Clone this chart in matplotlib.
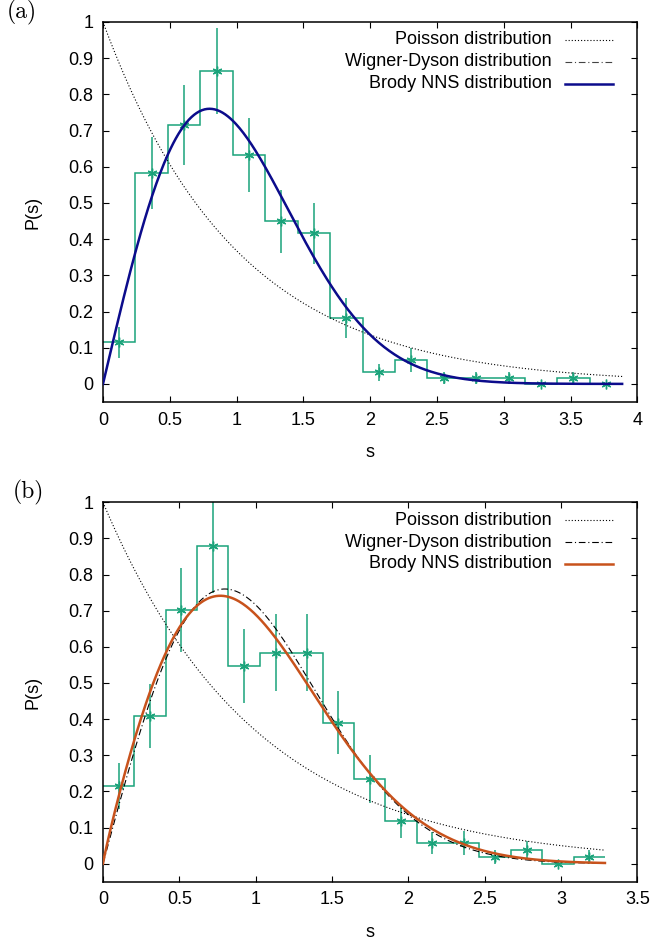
import numpy as np
import matplotlib.pyplot as plt
from matplotlib.ticker import FormatStrFormatter, MultipleLocator
from math import gamma

plt.rcParams['font.family'] = ['Liberation Sans', 'DejaVu Sans']
plt.rcParams['font.size'] = 13

# (a) histogram of nearest-neighbour spacings
bin_w_a = 0.2429
p_a = [0.115, 0.582, 0.715, 0.865, 0.632, 0.449, 0.416, 0.182,
       0.032, 0.066, 0.016, 0.016, 0.016, 0.0, 0.016, 0.0]
err_a = [0.043, 0.099, 0.110, 0.119, 0.103, 0.086, 0.084, 0.055,
         0.023, 0.032, 0.016, 0.016, 0.016, 0.0, 0.016, 0.0]
beta_a = 1.0

# (b)
bin_w_b = 0.2055
p_b = [0.214, 0.409, 0.702, 0.879, 0.547, 0.584, 0.584, 0.390,
       0.234, 0.117, 0.057, 0.057, 0.018, 0.039, 0.0, 0.018]
err_b = [0.064, 0.089, 0.116, 0.131, 0.103, 0.106, 0.106, 0.087,
         0.067, 0.046, 0.031, 0.033, 0.019, 0.025, 0.0, 0.019]
beta_b = 0.92

labels = ['Poisson distribution', 'Wigner-Dyson distribution', 'Brody NNS distribution']
hist_color = '#1aa37a'
dotted = (0, (1, 1.8))
dashdot = (0, (6, 2.5, 1, 2.5))


def poisson(s):
    return np.exp(-s)


def wigner(s):
    return np.pi / 2 * s * np.exp(-np.pi * s ** 2 / 4)


def brody(s, beta):
    b = gamma((beta + 2) / (beta + 1)) ** (beta + 1)
    return (beta + 1) * b * s ** beta * np.exp(-b * s ** (beta + 1))


def panel(ax, p, err, w, beta, brody_color, wd_color, xmax, tag, tag_x):
    edges = np.arange(len(p) + 1) * w
    centers = edges[:-1] + w / 2
    s = np.linspace(0, edges[-1], 400)

    ax.stairs(p, edges, baseline=None, color=hist_color, lw=1.1, zorder=2)
    ax.errorbar(centers, p, yerr=err, fmt='none', ecolor=hist_color,
                elinewidth=1.1, capsize=0, zorder=2)
    ax.plot(centers, p, ls='none', marker=(6, 2, 0), ms=7, mew=1.0,
            color=hist_color, zorder=3)

    styles = [('k', dotted, 0.8), (wd_color, dashdot, 0.8), (brody_color, '-', 1.8)]
    curves = [poisson(s), wigner(s), brody(s, beta)]
    for (c, ls, lw), y, z in zip(styles, curves, [4, 4, 5]):
        ax.plot(s, y, color=c, ls=ls, lw=lw, zorder=z)

    # gnuplot-style key: right-justified text, sample line to the right
    ys = [0.953, 0.895, 0.838]
    for (c, ls, lw), lab, yk in zip(styles, labels, ys):
        ax.text(0.840, yk, lab, transform=ax.transAxes, ha='right', va='center')
        ax.plot([0.865, 0.955], [yk, yk], transform=ax.transAxes,
                color=c, ls=ls, lw=lw, clip_on=False)

    ax.set_xlim(0, xmax)
    ax.set_ylim(-0.05, 1)
    ax.xaxis.set_major_locator(MultipleLocator(0.5))
    ax.yaxis.set_major_locator(MultipleLocator(0.1))
    ax.xaxis.set_major_formatter(FormatStrFormatter('%g'))
    ax.yaxis.set_major_formatter(FormatStrFormatter('%g'))
    ax.tick_params(direction='in', length=4.5, width=0.8, top=True, right=True,
                   labelsize=13, pad=7)
    for sp in ax.spines.values():
        sp.set_linewidth(1.1)
    ax.set_xlabel('s', labelpad=11)
    ax.set_ylabel('P(s)', labelpad=19)
    ax.text(tag_x, 1.025, tag, transform=ax.transAxes, fontsize=17,
            family='cmr10', ha='left', va='center')


fig = plt.figure(figsize=(6.56, 9.43), dpi=100)
ax1 = fig.add_axes([0.157, 0.5737, 0.8145, 0.403])
ax2 = fig.add_axes([0.157, 0.065, 0.8145, 0.4023])

panel(ax1, p_a, err_a, bin_w_a, beta_a, '#0c0c8c', '#444444', 4, '(a)', -0.18)
panel(ax2, p_b, err_b, bin_w_b, beta_b, '#c8521c', 'k', 3.5, '(b)', -0.168)

fig.savefig('out.png', dpi=100)
